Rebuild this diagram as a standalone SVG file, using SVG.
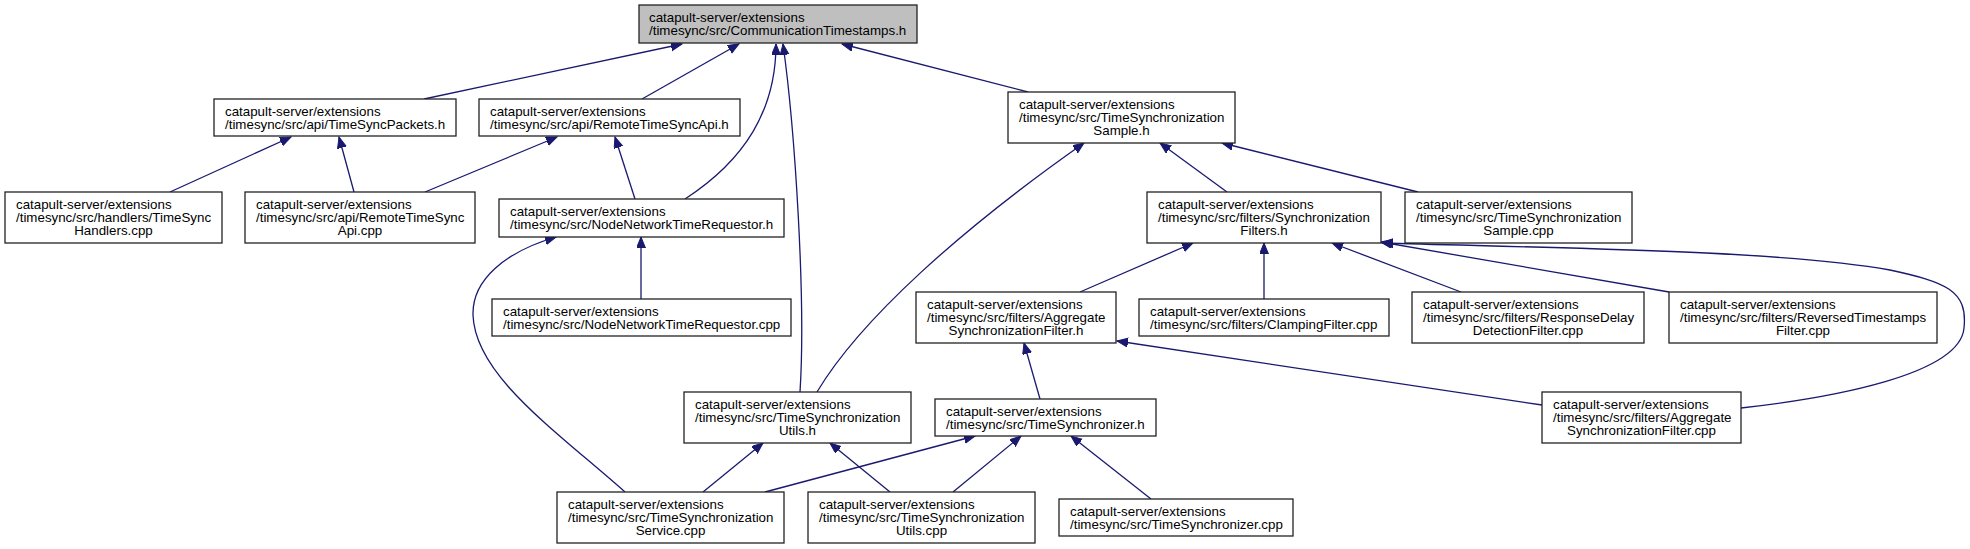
<svg xmlns="http://www.w3.org/2000/svg" width="1970" height="549" viewBox="0 0 1970 549">
<style>
.n rect{fill:#fff;stroke:#222;stroke-width:1.3}
.n.root rect{fill:#bfbfbf}
.n text{font-family:"Liberation Sans",Arial,sans-serif;font-size:13.33px;fill:#000}
.m{text-anchor:middle}
#edges path{fill:none;stroke:#191970;stroke-width:1.3;marker-end:url(#arr)}
</style>
<defs>
<marker id="arr" markerUnits="userSpaceOnUse" markerWidth="12" markerHeight="10" refX="11" refY="4.5" orient="auto">
<path d="M0,0 L11,4.5 L0,9 z" fill="#191970" stroke="#191970" stroke-width="1"/>
</marker>
</defs>
<rect width="1970" height="549" fill="#fff"/>
<g id="edges">
<path d="M424,99 L682,44"/>
<path d="M642,99 L739,44"/>
<path d="M685,199 C745,160 776,110 776,44"/>
<path d="M800,392 C806,300 795,130 783,44"/>
<path d="M1028,92 L842,44"/>
<path d="M170,192 L291,137"/>
<path d="M354,192 L339,137"/>
<path d="M425,192 L557,137"/>
<path d="M635,199 L615,137"/>
<path d="M641,299 L641,237"/>
<path d="M625,492 C555,430 475,375 473,315 C472,280 505,252 556,237"/>
<path d="M817,392 C860,320 960,230 1084,143"/>
<path d="M1227,192 L1160,143"/>
<path d="M1418,192 L1222,143"/>
<path d="M1080,292 L1193,243"/>
<path d="M1264,299 L1264,243"/>
<path d="M1461,292 L1332,243"/>
<path d="M1669,292 L1381,242"/>
<path d="M1741,408 C1830,398 1960,375 1964,328 C1968,290 1945,282 1890,270 C1780,250 1550,248 1382,243"/>
<path d="M1040,399 L1024,343"/>
<path d="M1542,405 L1117,341"/>
<path d="M703,492 L763,443"/>
<path d="M890,492 L830,443"/>
<path d="M765,492 L975,436"/>
<path d="M953,492 L1021,436"/>
<path d="M1151,499 L1071,436"/>
</g>
<g id="n0" class="n root"><rect x="639" y="5" width="278" height="38"/><text x="649" y="22">catapult-server/extensions</text><text x="649" y="35.3">/timesync/src/CommunicationTimestamps.h</text></g>
<g id="n1" class="n"><rect x="214" y="99" width="242" height="37"/><text x="225" y="115.5">catapult-server/extensions</text><text x="225" y="128.8">/timesync/src/api/TimeSyncPackets.h</text></g>
<g id="n2" class="n"><rect x="479" y="99" width="261" height="37"/><text x="490" y="115.5">catapult-server/extensions</text><text x="490" y="128.8">/timesync/src/api/RemoteTimeSyncApi.h</text></g>
<g id="n3" class="n"><rect x="1008" y="92" width="227" height="51"/><text x="1019" y="108.5">catapult-server/extensions</text><text x="1019" y="121.8">/timesync/src/TimeSynchronization</text><text class="m" x="1121.5" y="135.1">Sample.h</text></g>
<g id="n4" class="n"><rect x="5" y="192" width="217" height="51"/><text x="16" y="208.5">catapult-server/extensions</text><text x="16" y="221.8">/timesync/src/handlers/TimeSync</text><text class="m" x="113.5" y="235.1">Handlers.cpp</text></g>
<g id="n5" class="n"><rect x="245" y="192" width="230" height="51"/><text x="256" y="208.5">catapult-server/extensions</text><text x="256" y="221.8">/timesync/src/api/RemoteTimeSync</text><text class="m" x="360" y="235.1">Api.cpp</text></g>
<g id="n6" class="n"><rect x="499" y="199" width="285" height="38"/><text x="510" y="215.5">catapult-server/extensions</text><text x="510" y="228.8">/timesync/src/NodeNetworkTimeRequestor.h</text></g>
<g id="n7" class="n"><rect x="1147" y="192" width="234" height="51"/><text x="1158" y="208.5">catapult-server/extensions</text><text x="1158" y="221.8">/timesync/src/filters/Synchronization</text><text class="m" x="1264" y="235.1">Filters.h</text></g>
<g id="n8" class="n"><rect x="1405" y="192" width="227" height="51"/><text x="1416" y="208.5">catapult-server/extensions</text><text x="1416" y="221.8">/timesync/src/TimeSynchronization</text><text class="m" x="1518.5" y="235.1">Sample.cpp</text></g>
<g id="n9" class="n"><rect x="492" y="299" width="299" height="37"/><text x="503" y="315.5">catapult-server/extensions</text><text x="503" y="328.8">/timesync/src/NodeNetworkTimeRequestor.cpp</text></g>
<g id="n10" class="n"><rect x="916" y="292" width="200" height="51"/><text x="927" y="308.5">catapult-server/extensions</text><text x="927" y="321.8">/timesync/src/filters/Aggregate</text><text class="m" x="1016" y="335.1">SynchronizationFilter.h</text></g>
<g id="n11" class="n"><rect x="1139" y="299" width="250" height="37"/><text x="1150" y="315.5">catapult-server/extensions</text><text x="1150" y="328.8">/timesync/src/filters/ClampingFilter.cpp</text></g>
<g id="n12" class="n"><rect x="1412" y="292" width="232" height="51"/><text x="1423" y="308.5">catapult-server/extensions</text><text x="1423" y="321.8">/timesync/src/filters/ResponseDelay</text><text class="m" x="1528" y="335.1">DetectionFilter.cpp</text></g>
<g id="n13" class="n"><rect x="1669" y="292" width="268" height="51"/><text x="1680" y="308.5">catapult-server/extensions</text><text x="1680" y="321.8">/timesync/src/filters/ReversedTimestamps</text><text class="m" x="1803" y="335.1">Filter.cpp</text></g>
<g id="n14" class="n"><rect x="684" y="392" width="227" height="51"/><text x="695" y="408.5">catapult-server/extensions</text><text x="695" y="421.8">/timesync/src/TimeSynchronization</text><text class="m" x="797.5" y="435.1">Utils.h</text></g>
<g id="n15" class="n"><rect x="935" y="399" width="221" height="37"/><text x="946" y="415.5">catapult-server/extensions</text><text x="946" y="428.8">/timesync/src/TimeSynchronizer.h</text></g>
<g id="n16" class="n"><rect x="1542" y="392" width="199" height="51"/><text x="1553" y="408.5">catapult-server/extensions</text><text x="1553" y="421.8">/timesync/src/filters/Aggregate</text><text class="m" x="1641.5" y="435.1">SynchronizationFilter.cpp</text></g>
<g id="n17" class="n"><rect x="557" y="492" width="227" height="51"/><text x="568" y="508.5">catapult-server/extensions</text><text x="568" y="521.8">/timesync/src/TimeSynchronization</text><text class="m" x="670.5" y="535.1">Service.cpp</text></g>
<g id="n18" class="n"><rect x="808" y="492" width="227" height="51"/><text x="819" y="508.5">catapult-server/extensions</text><text x="819" y="521.8">/timesync/src/TimeSynchronization</text><text class="m" x="921.5" y="535.1">Utils.cpp</text></g>
<g id="n19" class="n"><rect x="1059" y="499" width="234" height="37"/><text x="1070" y="515.5">catapult-server/extensions</text><text x="1070" y="528.8">/timesync/src/TimeSynchronizer.cpp</text></g>
</svg>
